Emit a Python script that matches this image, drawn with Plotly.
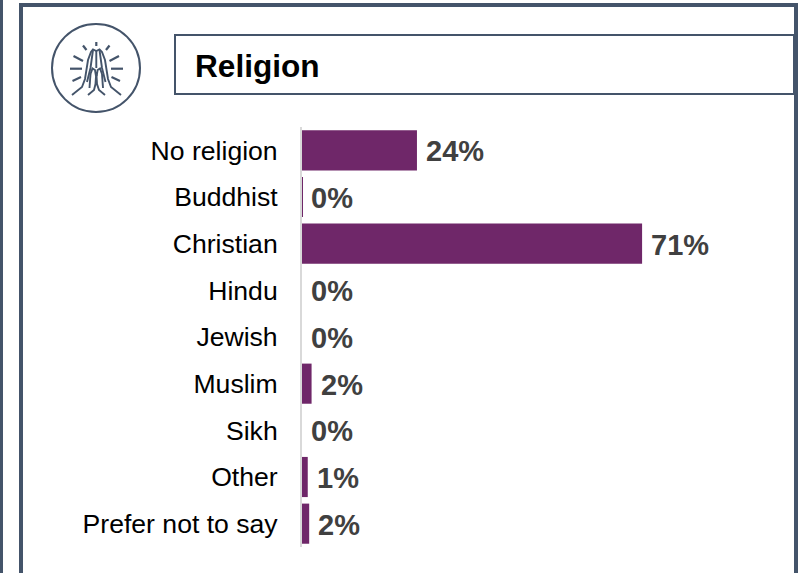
import plotly.graph_objects as go

categories = ["No religion", "Buddhist", "Christian", "Hindu", "Jewish", "Muslim", "Sikh", "Other", "Prefer not to say"]
values = [24.0, 0.1, 71.0, 0, 0, 2.0, 0, 1.2, 1.5]
labels = ["24%", "0%", "71%", "0%", "0%", "2%", "0%", "1%", "2%"]
title = "Religion"

W, H = 802, 573
PX = lambda x: x / W
PY = lambda y: 1 - y / H
NAVY = "#44546a"

def rect(x0, y0, x1, y1, **kw):
    return dict(type="rect", xref="paper", yref="paper", x0=PX(x0), x1=PX(x1), y0=PY(y0), y1=PY(y1), layer="above", **kw)

def seg(x0, y0, x1, y1, w=2.2):
    return dict(type="line", xref="paper", yref="paper", x0=PX(x0), x1=PX(x1), y0=PY(y0), y1=PY(y1),
                line=dict(color=NAVY, width=w), layer="above")

def path(points, w=1.9):
    d = "M " + " L ".join(f"{PX(x):.5f},{PY(y):.5f}" for x, y in points)
    return dict(type="path", xref="paper", yref="paper", path=d, line=dict(color=NAVY, width=w), layer="above")

shapes = [
    rect(0, -5, 3, H + 5, fillcolor=NAVY, line=dict(width=0)),
    rect(21, 5, 796, H + 5, line=dict(color=NAVY, width=4)),
    rect(175, 35, 794, 94, line=dict(color=NAVY, width=2)),
    dict(type="circle", xref="paper", yref="paper", x0=PX(52), x1=PX(140), y0=PY(24), y1=PY(112),
         line=dict(color=NAVY, width=2), layer="above"),
]
# praying-hands pictogram: rays
for r in [(96.3, 42, 96.3, 46), (83, 45.5, 86.5, 50), (109.5, 45.5, 106, 50), (73.5, 56, 83, 61), (119, 56, 109.5, 61),
          (70, 68.7, 82, 68.7), (123, 68.7, 111, 68.7), (72.5, 81, 81, 77), (120, 81, 111.5, 77)]:
    shapes.append(seg(*r))
# hands
shapes += [
    path([(72, 95), (82, 87), (85, 79), (88, 60), (91, 52), (93, 49.5), (96.3, 51), (99.5, 49.5), (102, 52), (105, 60), (108, 79), (111, 87), (121, 95)]),
    path([(88, 95), (94, 90), (95.5, 84), (96.3, 72), (97, 84), (99, 90), (105, 95)]),
    path([(96.3, 51), (96.3, 68)]),
    path([(93, 50), (90.5, 68), (87, 82)]),
    path([(99.5, 50), (102, 68), (105.5, 82)]),
    path([(90.5, 74), (92.5, 68.5), (95, 70), (96, 76)]),
    path([(102, 74), (100, 68.5), (97.6, 70), (96.6, 76)]),
    path([(90.5, 74), (89.5, 88)]),
    path([(102, 74), (103, 88)]),
]

annotations = [
    dict(x=v, y=c, xref="x", yref="y", text=f"<b>{t}</b>", showarrow=False, xanchor="left", xshift=7, yshift=-1,
         font=dict(family="Liberation Sans", size=29, color="#404040"))
    for c, v, t in zip(categories, values, labels)
]
annotations.append(dict(x=PX(193), y=PY(66), xref="paper", yref="paper", text=f"<b>{title}</b>", showarrow=False,
                        xanchor="left", yanchor="middle", font=dict(family="Liberation Sans", size=31.6, color="#000000")))

fig = go.Figure(go.Bar(x=values, y=categories, orientation="h", marker=dict(color="#6f2769", line=dict(width=0)),
                       width=0.86, hoverinfo="skip"))
fig.update_layout(
    width=W, height=H, margin=dict(l=0, r=0, t=0, b=0, pad=0), autosize=False,
    paper_bgcolor="white", plot_bgcolor="white", showlegend=False, shapes=shapes, annotations=annotations,
    xaxis=dict(domain=[PX(302), 1], range=[0, 500 / 4.79], visible=False, fixedrange=True),
    yaxis=dict(domain=[PY(547), PY(127)], categoryorder="array", categoryarray=categories, autorange="reversed",
               showgrid=False, zeroline=False, showline=True, linecolor="#d9d9d9", linewidth=2, ticks="",
               ticklabelstandoff=17, fixedrange=True,
               tickfont=dict(family="Liberation Sans", size=26.6, color="#000000")),
)
fig.write_html("out.html", config=dict(displayModeBar=False),
               post_script="document.body.style.margin='0';document.body.style.overflow='hidden';")
